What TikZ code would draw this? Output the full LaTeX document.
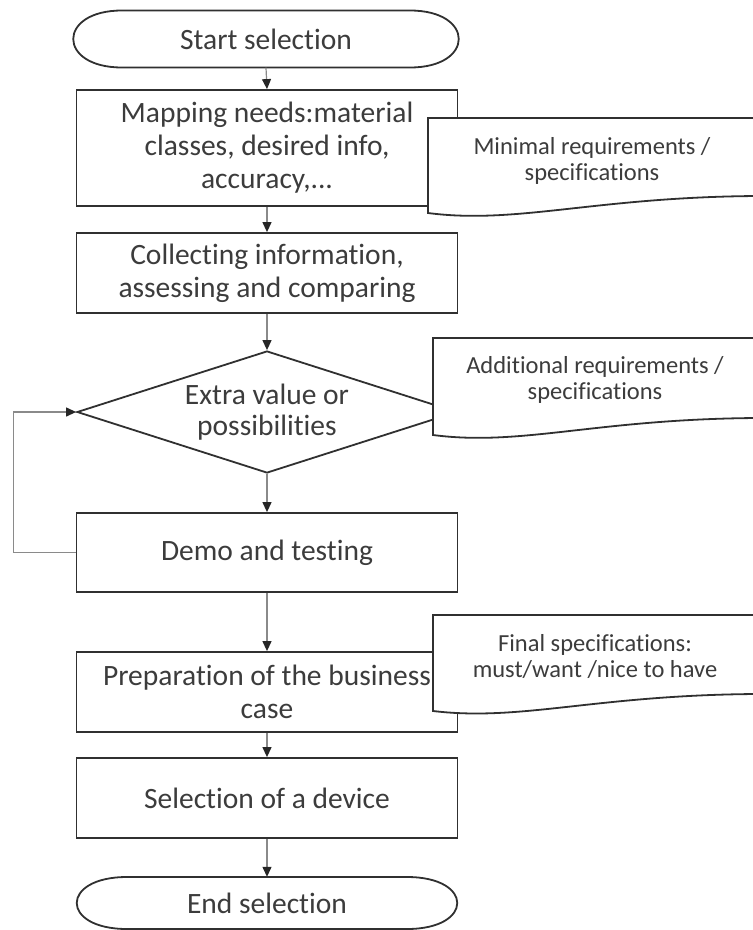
\documentclass[tikz,border=0pt]{standalone}
\usepackage{fontspec}
\setmainfont[Ligatures=NoCommon]{Carlito}
\usetikzlibrary{arrows.meta,shapes.geometric}
\definecolor{edgec}{HTML}{303030}
\definecolor{txtc}{HTML}{3C3C3C}
\definecolor{connc}{HTML}{8A8A8A}
\tikzset{
  boxline/.style={draw=edgec,line width=1.8pt,fill=white},
  procbox/.style={boxline,rectangle,minimum width=381pt,inner sep=0pt,align=center,text=txtc,font=\fontsize{29.5}{33}\selectfont},
  plaintext/.style={inner sep=0pt,align=center,text=txtc,font=\fontsize{29.5}{33}\selectfont},
  doctext/.style={inner sep=0pt,align=center,text=txtc,font=\fontsize{24.5}{26}\selectfont},
  conn/.style={draw=connc,line width=1.2pt,-{Triangle[width=9pt,length=10pt,color=black!85,fill=black!85]}},
}
\begin{document}
\begin{tikzpicture}[x=1pt,y=-1pt]
\useasboundingbox (0,0) rectangle (753,930);
\clip (0,0) rectangle (753,930);
% start terminator
\draw[boxline] (122,10.5) -- (410,10.5) .. controls (475,10.5) and (475,67.5) .. (410,67.5) -- (122,67.5) .. controls (57,67.5) and (57,10.5) .. (122,10.5) -- cycle;
\node[plaintext,minimum width=386pt,minimum height=57pt] (start) at (266,39) {Start selection};
% process boxes
\node[procbox,minimum height=116pt] (map) at (267,148) {Mapping needs:material\\classes, desired info,\\accuracy,...};
\node[procbox,minimum height=80pt] (coll) at (267,273) {Collecting information,\\assessing and comparing};
\node[diamond,boxline,aspect=3.1,minimum width=380pt,minimum height=122pt,inner sep=0pt,align=center,text=txtc,font=\fontsize{29.5}{31}\selectfont] (dia) at (267,412) {Extra value or\\possibilities};
\node[procbox,minimum height=79pt] (demo) at (267,552.5) {Demo and testing};
\node[procbox,minimum height=80pt] (prep) at (267,692) {Preparation of the business\\case};
\node[procbox,minimum height=80pt] (sel) at (267,798) {Selection of a device};
% end terminator
\draw[boxline] (127,877) -- (407,877) .. controls (474,877) and (474,929) .. (407,929) -- (127,929) .. controls (60,929) and (60,877) .. (127,877) -- cycle;
\node[plaintext,minimum width=381pt,minimum height=52pt] (endn) at (267,903) {End selection};
% connectors
\draw[conn] (start.south) -- (map.north);
\draw[conn] (map.south) -- (coll.north);
\draw[conn] (coll.south) -- (dia.north);
\draw[conn] (dia.south) -- (demo.north);
\draw[conn] (demo.south) -- (prep.north);
\draw[conn] (prep.south) -- (sel.north);
\draw[conn] (sel.south) -- (endn.north);
\draw[conn] (demo.west) -- ++(-62,0) |- (dia.west);
% documents
\draw[boxline] (428,118) -- (775,118) -- (775,196) .. controls (600,195) and (520,225) .. (428,213) -- cycle;
\node[doctext] (doc1) at (592,161) {Minimal requirements /\\specifications};
\draw[boxline] (433,338) -- (775,338) -- (775,418) .. controls (600,417) and (525,447) .. (433,435) -- cycle;
\node[doctext] (doc2) at (595,380) {Additional requirements /\\specifications};
\draw[boxline] (433,615) -- (775,615) -- (775,694) .. controls (600,693) and (525,722) .. (433,711) -- cycle;
\node[doctext] (doc3) at (595,657) {Final specifications:\\must/want /nice to have};
\end{tikzpicture}
\end{document}
